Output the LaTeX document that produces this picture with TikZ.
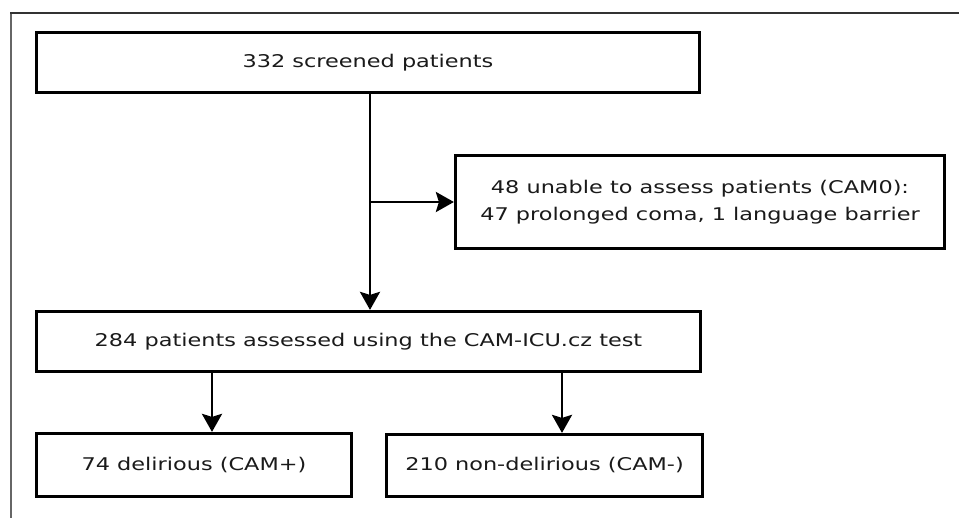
\documentclass[tikz,border=0pt]{standalone}
\usepackage{fontspec}
\setmainfont{DejaVu Sans}[FakeStretch=1.28]
\usetikzlibrary{arrows.meta}
\definecolor{ink}{HTML}{1A1A1A}
\tikzset{
  box/.style={draw=black, line width=3.2pt, fill=white, rectangle, inner sep=0pt,
    text=ink, align=center, font=\fontsize{17.5}{27}\selectfont},
  arr/.style={draw=black, line width=2.6pt,
    -{Stealth[length=18pt,width=20pt,inset=3pt]}},
}
\begin{document}
\begin{tikzpicture}[x=1pt,y=-1pt]
\useasboundingbox (0,0) rectangle (959,518);
% page frame
\draw[line width=1.5pt, color=black!60] (11,518) -- (11,13);
\draw[line width=1.6pt, color=black!80] (10.3,13) -- (959,13);

% boxes
\node[box, minimum width=663pt, minimum height=60pt] (screened) at (368,62.5) {332 screened patients};
\node[box, minimum width=489pt, minimum height=93pt] (unable) at (700,202)
  {48 unable to assess patients (CAM0):\\47 prolonged coma, 1 language barrier};
\node[box, minimum width=664pt, minimum height=60pt] (assessed) at (368.5,341.5)
  {284 patients assessed using the CAM-ICU.cz test};
\node[box, minimum width=315pt, minimum height=63pt] (delirious) at (194,465) {74 delirious (CAM+)};
\node[box, minimum width=316pt, minimum height=62pt] (nondel) at (544.5,465.5) {210 non-delirious (CAM-)};

% connectors
\coordinate (split) at (370,202);
\coordinate (leftdrop) at (212,400);
\coordinate (rightdrop) at (562,400);
\draw[arr] (screened.south -| split) -- (assessed.north -| split);
\draw[arr] (split) -- (unable.west);
\draw[arr] (assessed.south -| leftdrop) -- (delirious.north -| leftdrop);
\draw[arr] (assessed.south -| rightdrop) -- (nondel.north -| rightdrop);
\end{tikzpicture}
\end{document}
